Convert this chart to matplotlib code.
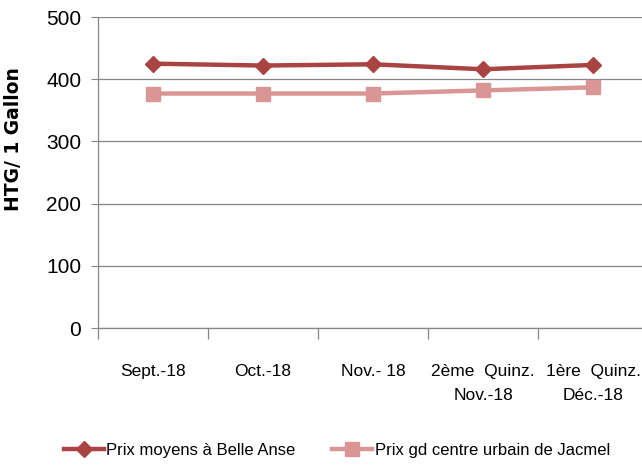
import matplotlib
matplotlib.use("Agg")
import matplotlib.pyplot as plt

plt.rcParams["font.family"] = ["Liberation Sans", "DejaVu Sans"]

# Data
categories = ["Sept.-18", "Oct.-18", "Nov.- 18", "2ème  Quinz.\nNov.-18", "1ère  Quinz.\nDéc.-18"]
belle_anse = [425, 422, 424, 416, 423]
jacmel = [377, 377, 377, 382, 387]
y_ticks = [0, 100, 200, 300, 400, 500]

dark_red = "#AA4442"
light_red = "#D99694"
grid_col = "#868686"

fig = plt.figure(figsize=(6.42, 4.65), dpi=100)
ax = fig.add_axes([0.1526, 0.2946, 0.857, 0.6688])

x = list(range(len(categories)))
ax.plot(x, belle_anse, color=dark_red, lw=3.2, marker="D", ms=8.5,
        label="Prix moyens à Belle Anse")
ax.plot(x, jacmel, color=light_red, lw=3.2, marker="s", ms=10.5,
        label="Prix gd centre urbain de Jacmel")

ax.set_xlim(-0.5, len(categories) - 0.5)
ax.set_ylim(0, 500)
ax.set_yticks(y_ticks)
ax.tick_params(axis="y", labelsize=15, length=5, color=grid_col, pad=7)
ax.yaxis.grid(True, color=grid_col, lw=0.9)
ax.set_axisbelow(True)

ax.set_xticks(x)
ax.set_xticklabels(categories, fontsize=12.5, linespacing=1.75)
ax.tick_params(axis="x", length=0, pad=26)
ax.set_xticks([i - 0.5 for i in x], minor=True)
ax.tick_params(axis="x", which="minor", length=8, color=grid_col, width=0.9)

for s in ["top", "right"]:
    ax.spines[s].set_visible(False)
for s in ["left", "bottom"]:
    ax.spines[s].set_color(grid_col)
    ax.spines[s].set_linewidth(0.9)

fig.text(14 / 642, 1 - 139 / 465, "HTG/ 1 Gallon", rotation=90, ha="center",
         va="center", fontsize=13.5, fontweight="bold", family=["DejaVu Sans"])

fig.legend(loc="center", bbox_to_anchor=(0.525, 0.032), ncol=2, frameon=False,
           fontsize=12, handlelength=2.4, handletextpad=0.15, columnspacing=2.2,
           borderpad=0)

fig.savefig("out.png", dpi=100)
